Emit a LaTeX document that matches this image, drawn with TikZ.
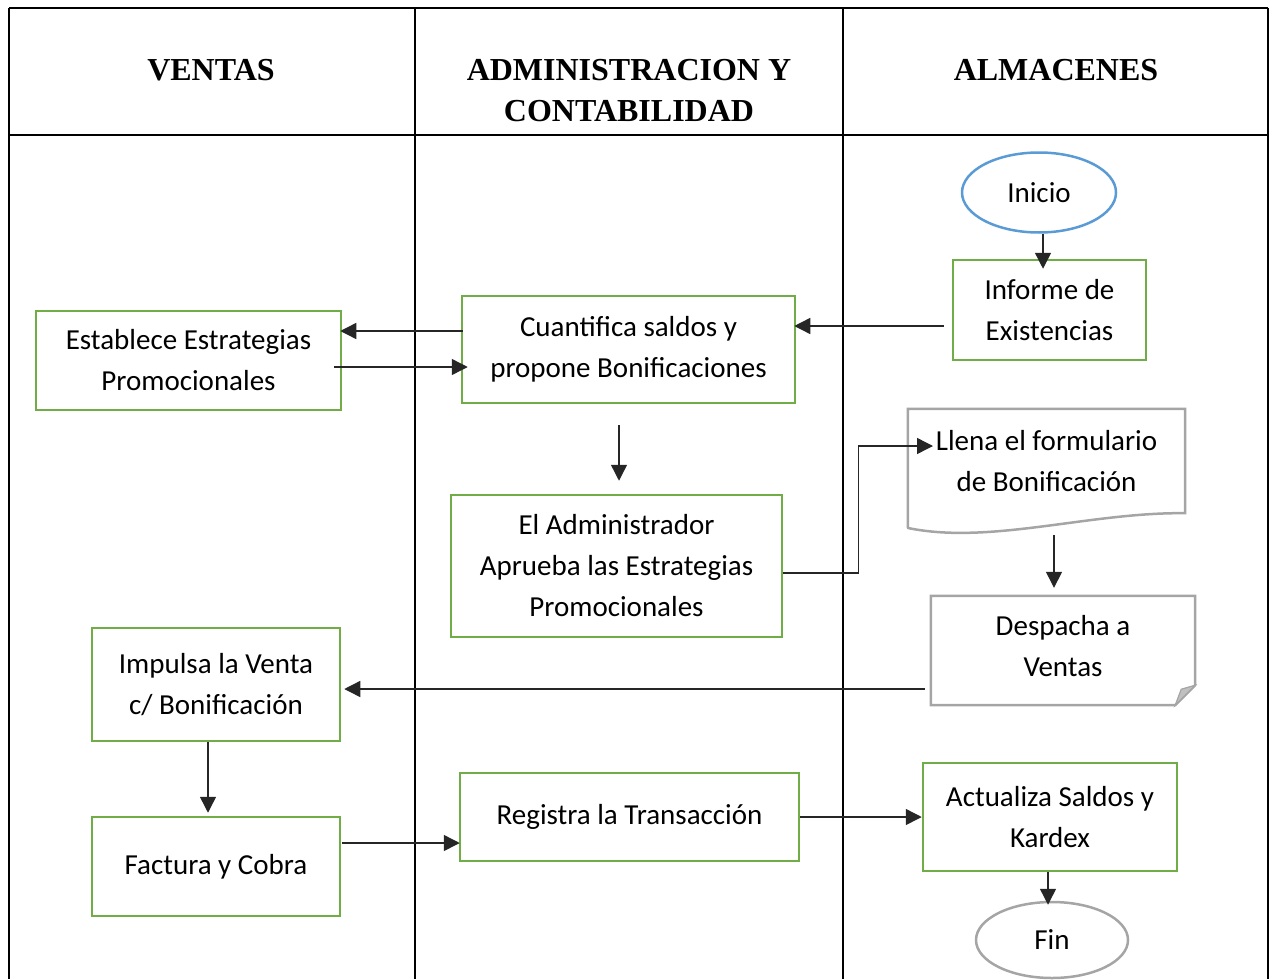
\documentclass[tikz,border=0pt]{standalone}
\usepackage{fontspec}
\setmainfont{Carlito}
\newfontfamily\hdrfont{Liberation Serif}
\usetikzlibrary{arrows.meta,shapes.geometric}
\definecolor{boxgreen}{HTML}{70AD47}
\definecolor{startblue}{HTML}{5B9BD5}
\definecolor{docgray}{HTML}{A5A5A5}
\begin{document}
\begin{tikzpicture}[x=1pt,y=-1pt,
  lane/.style={line width=2.2pt,black},
  header/.style={font=\hdrfont\bfseries\fontsize{32}{41}\selectfont,align=center},
  body/.style={font=\fontsize{29}{41}\selectfont,align=center},
  stepbox/.style={body,draw=boxgreen,line width=2.5pt,rectangle,inner sep=0pt},
  terminal/.style={body,ellipse,line width=2.5pt,inner sep=0pt},
  flow/.style={line width=1.4pt,black!85,-{Triangle[length=16pt,width=16pt]}}
]
\useasboundingbox (0,0) rectangle (1273,979);

% swimlane frame
\draw[lane] (9,8) -- (1268,8);
\draw[lane] (9,135) -- (1268,135);
\draw[lane] (9,8) -- (9,979);
\draw[lane] (1268,8) -- (1268,979);
\draw[lane] (415,8) -- (415,979);
\draw[lane] (843,8) -- (843,979);

% lane headers
\node[header] (hventas) at (211,70) {VENTAS};
\node[header] (hadmin) at (629,90.5) {ADMINISTRACION Y\\CONTABILIDAD};
\node[header] (halm) at (1056,70) {ALMACENES};

% process steps
\node[terminal,draw=startblue,minimum width=154pt,minimum height=80pt] (ini) at (1039,192.5) {Inicio};
\node[stepbox,minimum width=193pt,minimum height=100pt] (inf) at (1049.5,310) {Informe de\\Existencias};
\node[stepbox,minimum width=333pt,minimum height=107pt] (cuant) at (628.5,349.5) {Cuantifica saldos y\\propone Bonificaciones};
\node[stepbox,minimum width=305pt,minimum height=99pt] (est) at (188.5,360.5) {Establece Estrategias\\Promocionales};
\node[stepbox,minimum width=331pt,minimum height=142pt] (adm) at (616.5,566) {El Administrador\\Aprueba las Estrategias\\Promocionales};

% document shape
\node[body,minimum width=277pt,minimum height=104pt,inner sep=0pt] (llena) at (1046.5,461) {Llena el formulario\\de Bonificación};
\draw[docgray,line width=2.5pt,line join=miter]
  (llena.south west) ++(0,15) -- (llena.north west) -- (llena.north east) -- (llena.south east)
  .. controls (1090,512) and (990,545) .. (908,528);
\draw[docgray,line width=2.5pt] (llena.south west) -- ++(0,16);

% folded-corner shape
\node[body,minimum width=264pt,minimum height=109pt,inner sep=0pt] (desp) at (1063,646.5) {Despacha a\\Ventas};
\draw[docgray,line width=2.5pt,line join=miter]
  ([shift={(0,4)}]desp.south west) -- ([shift={(0,4)}]desp.north west) -- ([shift={(0,4)}]desp.north east)
  -- ([shift={(0,-16)}]desp.south east) -- ([shift={(-20,4)}]desp.south east) -- cycle;
\draw[docgray,line width=1.2pt,fill=docgray!70]
  ([shift={(0,-16)}]desp.south east) -- ([shift={(-14,-12)}]desp.south east) -- ([shift={(-20,4)}]desp.south east) -- cycle;

\node[stepbox,minimum width=248pt,minimum height=113pt] (imp) at (216,684.5) {Impulsa la Venta\\c/ Bonificación};
\node[stepbox,minimum width=248pt,minimum height=99pt] (fac) at (216,866.5) {Factura y Cobra};
\node[stepbox,minimum width=339pt,minimum height=88pt] (reg) at (629.5,817) {Registra la Transacción};
\node[stepbox,minimum width=254pt,minimum height=108pt] (act) at (1050,817) {Actualiza Saldos y\\Kardex};
\node[terminal,draw=docgray,minimum width=152pt,minimum height=76pt] (fin) at (1052,940) {Fin};

% connectors
\draw[flow] ([shift={(4,0)}]ini.south) -- ([shift={(-6.5,10)}]inf.north);
\draw[flow] ([shift={(-8,16)}]inf.west) -- ([shift={(-2,-23.5)}]cuant.east);
\draw[flow] ([shift={(2,-18.5)}]cuant.west) -- ([shift={(-2,-29.5)}]est.east);
\draw[flow] ([shift={(-8,6.5)}]est.east) -- ([shift={(7,17.5)}]cuant.west);
\draw[flow] ([shift={(-9.5,21)}]cuant.south) -- ([shift={(2.5,-13)}]adm.north);
\draw[flow] ([shift={(0,7)}]adm.east) -- ++(75,0) |- ([shift={(-113.5,-15)}]llena.center);
\draw[flow] ([shift={(7.5,22)}]llena.south) -- ([shift={(-9,-4)}]desp.north);
\draw[flow] ([shift={(-6,42.5)}]desp.west) -- ([shift={(3,4.5)}]imp.east);
\draw[flow] ([shift={(-8,0)}]imp.south) -- ([shift={(-8,-3)}]fac.north);
\draw[flow] ([shift={(1,-23.5)}]fac.east) -- ([shift={(1,26)}]reg.west);
\draw[flow] (reg.east) -- (act.west);
\draw[flow] ([shift={(-2,0)}]act.south) -- ([shift={(-4,4)}]fin.north);
\end{tikzpicture}
\end{document}
